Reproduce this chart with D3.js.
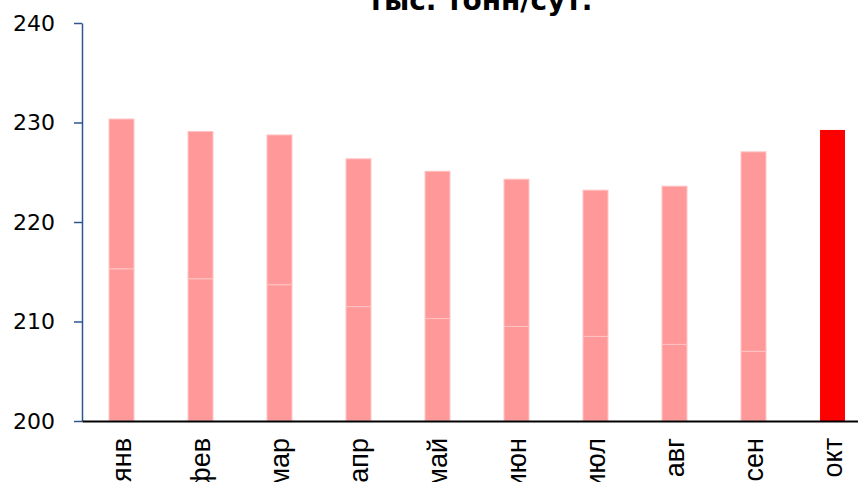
<!DOCTYPE html>
<html>
<head>
<meta charset="utf-8">
<script src="https://cdn.jsdelivr.net/npm/d3@7"></script>
<style>
  body { margin: 0; background: #fff; }
</style>
</head>
<body>
<div id="chart"></div>
<script>
// Data
const months = ["янв", "фев", "мар", "апр", "май", "июн", "июл", "авг", "сен", "окт"];
const lowerPart = [215.3, 214.3, 213.7, 211.5, 210.3, 209.5, 208.5, 207.7, 207.0, null];
const totals = [230.35, 229.1, 228.75, 226.35, 225.1, 224.3, 223.2, 223.6, 227.05, 229.25];
const yTicks = [200, 210, 220, 230, 240];
const title = "тыс. тонн/сут.";

const width = 858;
const height = 482;

const svg = d3
  .select("#chart")
  .append("svg")
  .attr("width", width)
  .attr("height", height);

// Scales
const x = d3
  .scaleBand()
  .domain(months)
  .range([82, 872])
  .paddingInner(0.684)
  .paddingOuter(0.342);

const y = d3.scaleLinear().domain([200, 240]).range([421, 23]);

// Title (cut off at the top, as in the source)
svg
  .append("text")
  .attr("x", 480)
  .attr("y", 10)
  .attr("text-anchor", "middle")
  .style("font-family", "DejaVu Sans")
  .style("font-weight", "bold")
  .style("font-size", "28px")
  .text(title);

// Bars: two stacked pieces for the past months, one red bar for the last
const bars = svg.append("g");
months.forEach((m, i) => {
  const last = lowerPart[i] === null;
  const pieces = last
    ? [[200, totals[i]]]
    : [[200, lowerPart[i]], [lowerPart[i], totals[i]]];
  pieces.forEach(([a, b]) => {
    bars
      .append("rect")
      .attr("x", x(m))
      .attr("y", y(b))
      .attr("width", x.bandwidth())
      .attr("height", y(a) - y(b))
      .attr("fill", last ? "#ff0000" : "#ff9999")
      .attr("stroke", last ? "none" : "#ffc4c4")
      .attr("stroke-width", 1);
  });
});

// Y axis
const yAxis = svg
  .append("g")
  .attr("transform", "translate(82,0)")
  .call(d3.axisLeft(y).tickValues(yTicks).tickSize(8).tickSizeOuter(0).tickPadding(19));
yAxis.select(".domain").attr("stroke", "#2e5591").attr("stroke-width", 1.5);
yAxis.selectAll(".tick line").attr("stroke", "#2e5591").attr("stroke-width", 1.5);
yAxis
  .selectAll(".tick text")
  .style("font-family", "DejaVu Sans")
  .style("font-size", "22px")
  .attr("fill", "#000");

// X axis line and rotated month labels
const xAxis = svg
  .append("g")
  .attr("transform", "translate(0,421)")
  .call(d3.axisBottom(x).tickSize(0).tickSizeOuter(0).tickPadding(0));
xAxis.select(".domain").attr("stroke", "#000").attr("stroke-width", 2);
xAxis
  .selectAll(".tick text")
  .attr("transform", "rotate(-90)")
  .attr("x", -17)
  .attr("y", 0)
  .attr("dy", "0.35em")
  .attr("text-anchor", "end")
  .style("font-family", "Liberation Sans")
  .style("font-size", "27px")
  .attr("fill", "#000");
</script>
</body>
</html>
